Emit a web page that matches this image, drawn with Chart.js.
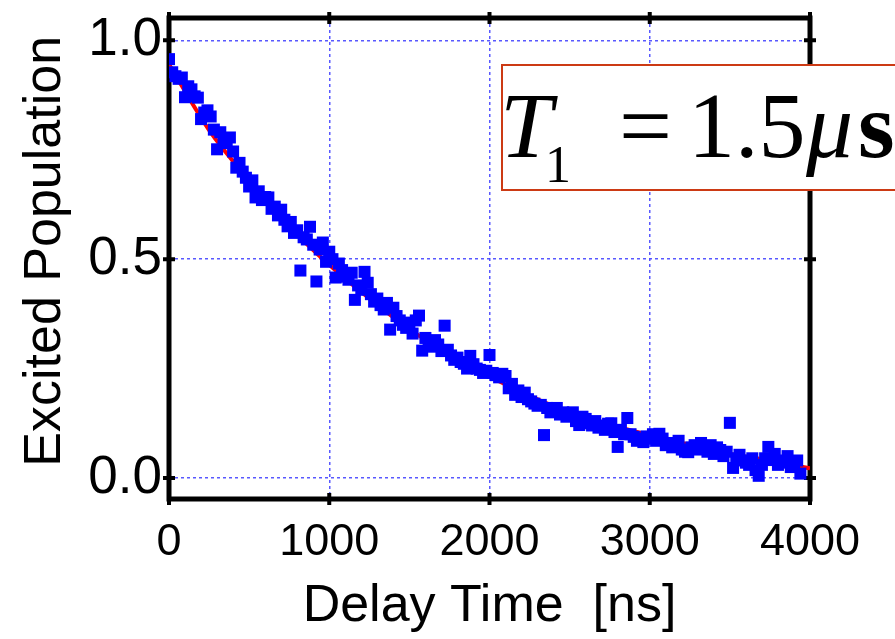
<!DOCTYPE html>
<html>
<head>
<meta charset="utf-8">
<script src="https://cdn.jsdelivr.net/npm/chart.js@4/dist/chart.umd.min.js"></script>
<style>
  html, body { margin: 0; padding: 0; background: #ffffff; }
  #wrap { width: 895px; height: 639px; }
</style>
</head>
<body>
<div id="wrap"><canvas id="c" width="895" height="639"></canvas></div>
<script>
// ---- data ----
const delayTimes = [
  0,20,40,60,80,100,120,140,160,180,
  200,220,240,260,280,300,320,340,360,380,
  400,420,440,460,480,500,520,540,560,580,
  600,620,640,660,680,700,720,740,760,780,
  800,820,840,860,880,900,920,940,960,980,
  1000,1020,1040,1060,1080,1100,1120,1140,1160,1180,
  1200,1220,1240,1260,1280,1300,1320,1340,1360,1380,
  1400,1420,1440,1460,1480,1500,1520,1540,1560,1580,
  1600,1620,1640,1660,1680,1700,1720,1740,1760,1780,
  1800,1820,1840,1860,1880,1900,1920,1940,1960,1980,
  2000,2020,2040,2060,2080,2100,2120,2140,2160,2180,
  2200,2220,2240,2260,2280,2300,2320,2340,2360,2380,
  2400,2420,2440,2460,2480,2500,2520,2540,2560,2580,
  2600,2620,2640,2660,2680,2700,2720,2740,2760,2780,
  2800,2820,2840,2860,2880,2900,2920,2940,2960,2980,
  3000,3020,3040,3060,3080,3100,3120,3140,3160,3180,
  3200,3220,3240,3260,3280,3300,3320,3340,3360,3380,
  3400,3420,3440,3460,3480,3500,3520,3540,3560,3580,
  3600,3620,3640,3660,3680,3700,3720,3740,3760,3780,
  3800,3820,3840,3860,3880,3900,3920,3940
];
const excitedPopulation = [
  .957,.927,.918,.912,.915,.870,.895,.888,.872,.869,
  .820,.835,.840,.826,.796,.751,.790,.770,.765,.778,
  .746,.709,.720,.700,.686,.666,.680,.641,.655,.635,
  .642,.641,.615,.620,.600,.613,.590,.575,.585,.560,
  .566,.474,.550,.545,.574,.533,.449,.522,.538,.494,
  .517,.500,.458,.490,.475,.460,.453,.469,.407,.440,
  .430,.471,.446,.420,.403,.410,.395,.385,.400,.339,
  .389,.370,.360,.350,.343,.355,.330,.360,.371,.291,
  .320,.310,.300,.315,.305,.290,.348,.293,.280,.270,
  .275,.265,.261,.250,.279,.260,.250,.247,.240,.245,
  .281,.240,.235,.230,.238,.233,.205,.215,.190,.200,
  .185,.195,.180,.175,.170,.165,.167,.098,.160,.150,
  .155,.160,.145,.150,.140,.144,.150,.130,.121,.140,
  .135,.125,.120,.130,.115,.120,.110,.124,.125,.105,
  .071,.110,.100,.137,.100,.094,.085,.090,.082,.095,
  .090,.100,.085,.101,.090,.075,.080,.070,.073,.085,
  .065,.060,.059,.070,.075,.065,.080,.071,.060,.075,
  .055,.070,.064,.050,.060,.126,.023,.045,.053,.040,
  .035,.030,.045,.018,.005,.030,.045,.071,.041,.055,
  .030,.040,.035,.050,.025,.027,.040,.010
];
// fitted decay curve
const fitTimes  = [0,250,500,750,1000,1250,1500,1750,2000,2250,2500,2750,3000,3250,3500,3750,4000];
const fitValues = [.945,.795,.680,.575,.487,.410,.340,.282,.232,.188,.150,.122,.098,.076,.055,.040,.022];
const xTickValues = [0,1000,2000,3000,4000];
const xTickLabels = ["0","1000","2000","3000","4000"];
const yTickValues = [0,0.5,1.0];
const yTickLabels = ["0.0","0.5","1.0"];
const xAxisTitle = "Delay Time  [ns]";
const yAxisTitle = " Excited Population";

const scatterPts = delayTimes.map((t, i) => ({x: t, y: excitedPopulation[i]}));
const fitPts = fitTimes.map((t, i) => ({x: t, y: fitValues[i]}));

const SANS = "Arial, 'Liberation Sans', sans-serif";
const SERIF = "'Times New Roman', 'Liberation Serif', serif";

const framePlugin = {
  id: 'frame',
  beforeDatasetsDraw(chart) {
    const {ctx, chartArea: a, scales} = chart;
    ctx.save();
    ctx.strokeStyle = '#000';
    ctx.lineWidth = 5;
    ctx.strokeRect(a.left, a.top, a.right - a.left, a.bottom - a.top);
    ctx.lineWidth = 4;
    ctx.beginPath();
    xTickValues.forEach(v => {
      const px = scales.x.getPixelForValue(v);
      ctx.moveTo(px, a.bottom - 6); ctx.lineTo(px, a.bottom + 6);
      ctx.moveTo(px, a.top - 6); ctx.lineTo(px, a.top + 6);
    });
    yTickValues.forEach(v => {
      const py = scales.y.getPixelForValue(v);
      ctx.moveTo(a.left - 6, py); ctx.lineTo(a.left + 6, py);
      ctx.moveTo(a.right - 6, py); ctx.lineTo(a.right + 6, py);
    });
    ctx.stroke();
    ctx.restore();
  }
};

const boxPlugin = {
  id: 't1box',
  afterDraw(chart) {
    const ctx = chart.ctx;
    ctx.save();
    ctx.fillStyle = '#fff';
    ctx.fillRect(502, 65, 400, 125);
    ctx.strokeStyle = '#cc3a14';
    ctx.lineWidth = 2;
    ctx.strokeRect(502, 65, 400, 125);
    ctx.fillStyle = '#000';
    ctx.textBaseline = 'alphabetic';
    ctx.textAlign = 'left';
    ctx.font = "italic 94px " + SERIF;
    ctx.fillText("T", 500, 157);
    ctx.font = "52px " + SERIF;
    ctx.fillText("1", 545, 182);
    ctx.font = "94px " + SERIF;
    ctx.fillText("=", 619, 157);
    ctx.fillText("1.5", 688, 157);
    ctx.font = "italic 94px " + SERIF;
    ctx.fillText("\u03bc", 806, 157);
    ctx.font = "bold 94px " + SERIF;
    ctx.fillText("s", 858, 157);
    ctx.restore();
  }
};

new Chart(document.getElementById('c'), {
  type: 'scatter',
  data: {
    datasets: [
      {
        label: 'data',
        data: scatterPts,
        pointStyle: 'rect',
        pointRadius: 8.5,
        pointHoverRadius: 8.5,
        backgroundColor: '#0000ff',
        borderColor: '#0000ff',
        borderWidth: 0,
        order: 1
      },
      {
        label: 'fit',
        data: fitPts,
        showLine: true,
        pointRadius: 0,
        borderColor: '#ff0000',
        borderWidth: 4,
        cubicInterpolationMode: 'monotone',
        fill: false,
        order: 2
      }
    ]
  },
  options: {
    responsive: false,
    animation: false,
    events: [],
    layout: { padding: { left: 0, right: 85, top: 18, bottom: 0 } },
    plugins: { legend: { display: false }, tooltip: { enabled: false } },
    scales: {
      x: {
        type: 'linear',
        min: 0, max: 4000,
        afterFit(s) { s.height = 140; s.paddingLeft = 0; s.paddingRight = 0; },
        afterBuildTicks(s) { s.ticks = xTickValues.map(v => ({value: v})); },
        grid: { color: 'rgba(70,70,255,0.9)', lineWidth: 1.5, drawTicks: false, tickLength: 0 },
        border: { display: false, dash: [3, 3] },
        ticks: {
          padding: 17,
          color: '#000',
          font: { family: SANS, size: 45 },
          callback: (v) => xTickLabels[xTickValues.indexOf(v)],
          maxRotation: 0, autoSkip: false
        },
        title: { display: true, text: xAxisTitle, color: '#000', font: { family: SANS, size: 52 }, padding: { top: 0, bottom: 1 } }
      },
      y: {
        type: 'linear',
        min: -0.048, max: 1.051,
        afterFit(s) { s.width = 169; s.paddingTop = 0; s.paddingBottom = 0; },
        afterBuildTicks(s) { s.ticks = yTickValues.map(v => ({value: v})); },
        grid: { color: 'rgba(70,70,255,0.9)', lineWidth: 1.5, drawTicks: false, tickLength: 0 },
        border: { display: false, dash: [3, 3] },
        ticks: {
          padding: 7,
          color: '#000',
          font: { family: SANS, size: 53 },
          callback: (v) => yTickLabels[yTickValues.indexOf(v)]
        },
        title: { display: true, text: yAxisTitle, color: '#000', font: { family: SANS, size: 52 }, padding: { top: 14, bottom: 0 } }
      }
    }
  },
  plugins: [framePlugin, boxPlugin]
});
</script>
</body>
</html>
